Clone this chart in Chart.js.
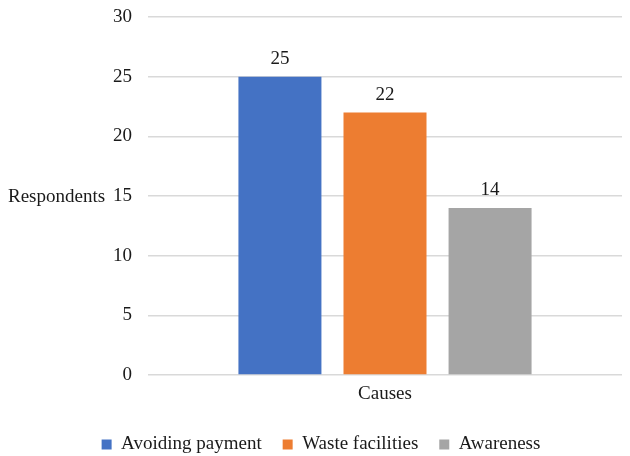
<!DOCTYPE html>
<html>
<head>
<meta charset="utf-8">
<script src="https://cdn.jsdelivr.net/npm/chart.js@4.4.1/dist/chart.umd.min.js"></script>
<style>
  html, body { margin: 0; padding: 0; background: #fff; }
  #wrap { width: 630px; height: 456px; }
</style>
</head>
<body>
<div id="wrap"><canvas id="chart" width="630" height="456"></canvas></div>
<script>
const categories = ['Causes'];
const seriesNames = ['Avoiding payment', 'Waste facilities', 'Awareness'];
const seriesValues = [[25], [22], [14]];
const seriesColors = ['#4472C4', '#ED7D31', '#A5A5A5'];
const yTicks = [0, 5, 10, 15, 20, 25, 30];
const yTitle = 'Respondents';

const fontFamily = '"Liberation Serif", "Times New Roman", serif';
const fontSize = 19;
const textColor = '#1a1a1a';

// value labels above each bar
const valueLabels = {
    id: 'valueLabels',
    afterDatasetsDraw(chart) {
        const ctx = chart.ctx;
        ctx.save();
        ctx.font = fontSize + 'px ' + fontFamily;
        ctx.fillStyle = textColor;
        ctx.textAlign = 'center';
        ctx.textBaseline = 'bottom';
        chart.data.datasets.forEach((ds, i) => {
            const meta = chart.getDatasetMeta(i);
            meta.data.forEach((bar, j) => {
                ctx.fillText(ds.data[j], bar.x, bar.y - 8);
            });
        });
        ctx.restore();
    }
};

// horizontal y axis title on the left
const sideTitle = {
    id: 'sideTitle',
    afterDraw(chart) {
        const ctx = chart.ctx;
        const area = chart.chartArea;
        ctx.save();
        ctx.font = fontSize + 'px ' + fontFamily;
        ctx.fillStyle = textColor;
        ctx.textAlign = 'left';
        ctx.textBaseline = 'middle';
        ctx.fillText(yTitle, 8, (area.top + area.bottom) / 2 + 1);
        ctx.restore();
    }
};

const ctx = document.getElementById('chart').getContext('2d');
const chart = new Chart(ctx, {
    type: 'bar',
    data: {
        labels: categories,
        datasets: seriesNames.map((name, i) => ({
            label: name,
            data: seriesValues[i],
            backgroundColor: seriesColors[i],
            borderWidth: 0,
            categoryPercentage: 0.665,
            barPercentage: 0.79
        }))
    },
    options: {
        responsive: false,
        animation: false,
        layout: { padding: { left: 20, right: 8, top: 17, bottom: -8 } },
        plugins: {
            legend: {
                position: 'bottom',
                labels: {
                    font: { family: fontFamily, size: fontSize },
                    color: textColor,
                    boxWidth: 10,
                    boxHeight: 10,
                    padding: 21
                }
            },
            tooltip: { enabled: false }
        },
        scales: {
            x: {
                grid: { display: false },
                border: { display: false },
                ticks: {
                    font: { family: fontFamily, size: fontSize },
                    color: textColor,
                    padding: 0
                },
                afterFit(scale) { scale.height = 39; }
            },
            y: {
                min: 0,
                max: 30,
                afterBuildTicks(scale) { scale.ticks = yTicks.map(v => ({ value: v })); },
                grid: { color: '#D9D9D9', lineWidth: 1.5, drawTicks: false },
                border: { display: false },
                ticks: {
                    font: { family: fontFamily, size: fontSize },
                    color: textColor,
                    padding: 16
                },
                afterFit(scale) {
                    scale.width = 128;
                    scale.paddingTop = 0;
                    scale.paddingBottom = 0;
                }
            }
        }
    },
    plugins: [valueLabels, sideTitle]
});
</script>
</body>
</html>
